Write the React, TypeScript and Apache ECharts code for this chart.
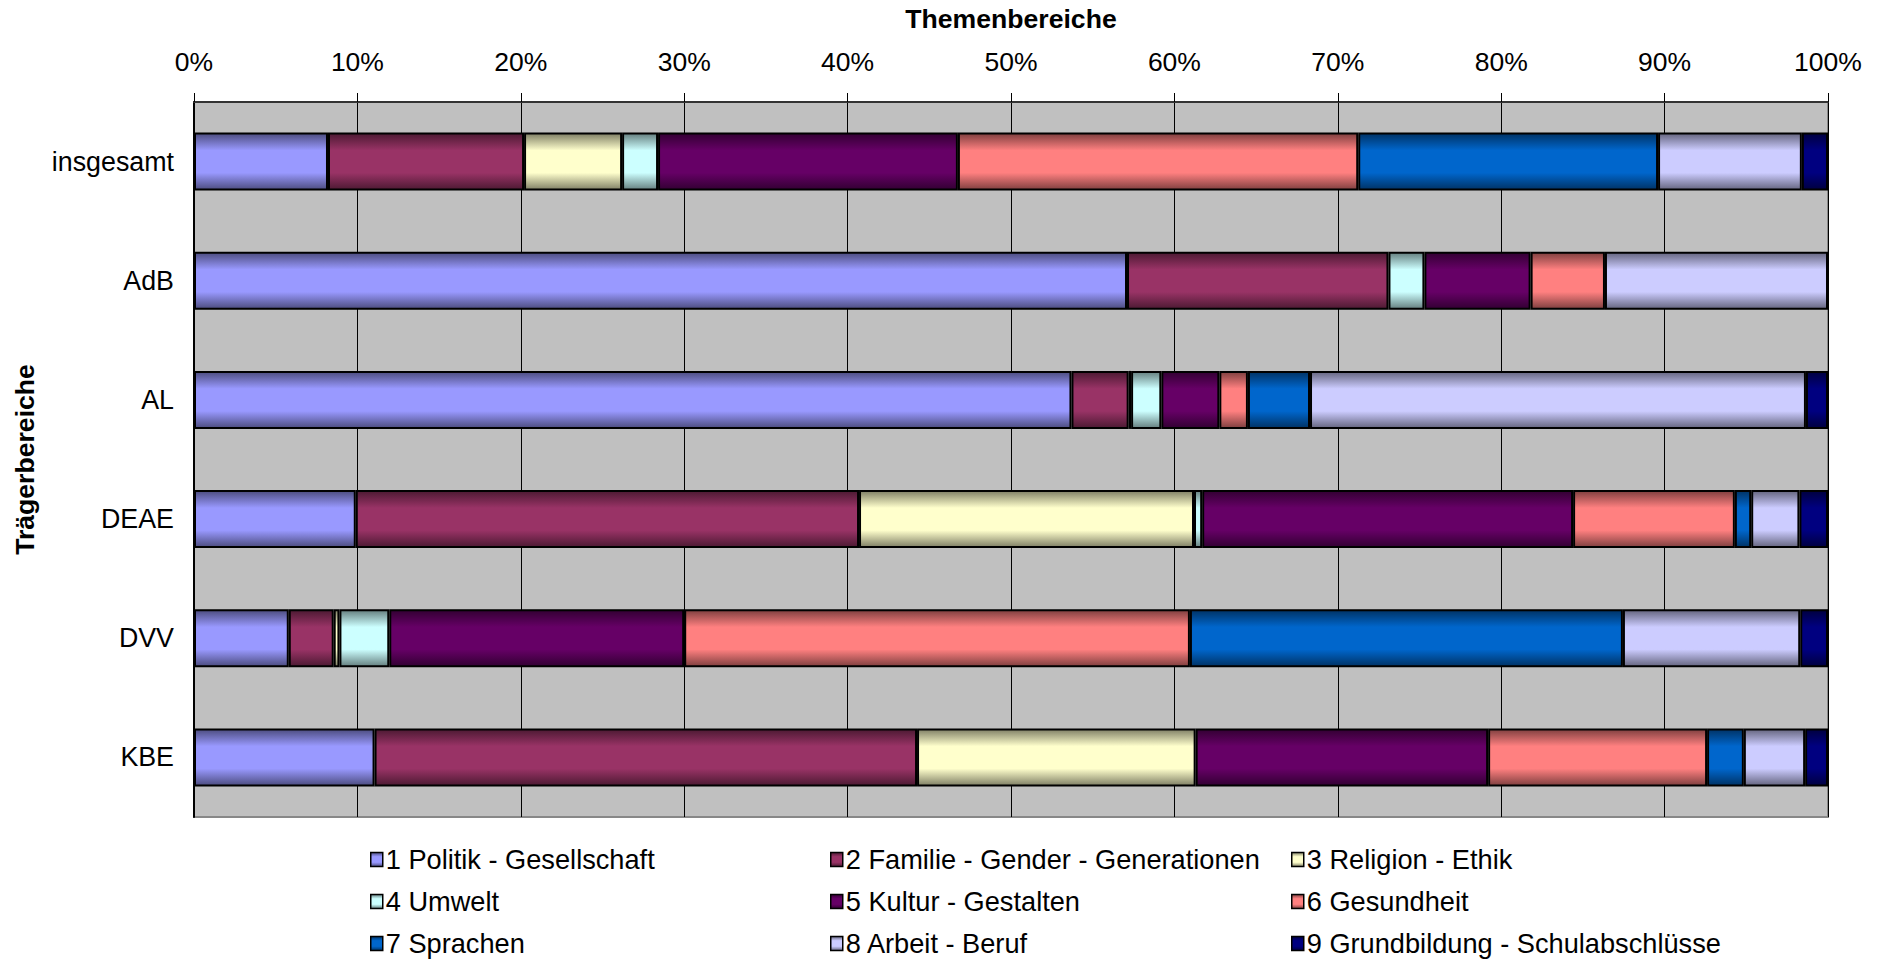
import React, { useEffect, useRef } from "react";
import * as echarts from "echarts";

const categories = ["insgesamt", "AdB", "AL", "DEAE", "DVV", "KBE"];
const seriesNames = [
  "1 Politik - Gesellschaft",
  "2 Familie - Gender - Generationen",
  "3 Religion - Ethik",
  "4 Umwelt",
  "5 Kultur - Gestalten",
  "6 Gesundheit",
  "7 Sprachen",
  "8 Arbeit - Beruf",
  "9 Grundbildung - Schulabschlüsse",
];
const seriesColors = ["#9999FF", "#993366", "#FFFFCC", "#CCFFFF", "#660066", "#FF8080", "#0066CC", "#CCCCFF", "#000080"];

const politik = [8.2, 57.1, 53.7, 9.9, 5.8, 11.05];
const familie = [12.0, 16.0, 3.5, 30.8, 2.75, 33.2];
const religion = [6.0, 0, 0.15, 20.5, 0.35, 17.05];
const umwelt = [2.2, 2.2, 1.85, 0.5, 3.05, 0];
const kultur = [18.35, 6.5, 3.55, 22.7, 18.05, 17.9];
const gesundheit = [24.5, 4.55, 1.75, 9.9, 30.95, 13.4];
const sprachen = [18.35, 0, 3.8, 1.0, 26.5, 2.25];
const arbeit = [8.8, 13.65, 30.35, 2.95, 10.85, 3.75];
const grundbildung = [1.6, 0, 1.35, 1.75, 1.7, 1.4];

const xTicks = [0, 10, 20, 30, 40, 50, 60, 70, 80, 90, 100];

const allValues = [politik, familie, religion, umwelt, kultur, gesundheit, sprachen, arbeit, grundbildung];

const FONT = "'Liberation Sans', Arial, sans-serif";

function darken(hex: string, f: number) {
  const n = parseInt(hex.slice(1), 16);
  const r = Math.round(((n >> 16) & 255) * f);
  const g = Math.round(((n >> 8) & 255) * f);
  const b = Math.round((n & 255) * f);
  return `rgb(${r},${g},${b})`;
}

function gradient(hex: string) {
  const d = darken(hex, 0.5);
  return new echarts.graphic.LinearGradient(0, 0, 0, 1, [
    { offset: 0, color: d },
    { offset: 0.3, color: hex },
    { offset: 0.7, color: hex },
    { offset: 1, color: d },
  ]);
}

export default function App() {
  const ref = useRef<HTMLDivElement>(null);
  useEffect(() => {
    if (!ref.current) return;
    const chart = echarts.init(ref.current, null, { renderer: "svg" });
    const series = seriesNames.map((name, i) => ({
      name,
      type: "bar",
      stack: "total",
      barWidth: 58,
      data: allValues[i].map((v) => (v === 0 ? null : v)),
      itemStyle: {
        color: gradient(seriesColors[i]),
        borderColor: "#000",
        borderWidth: 2,
      },
    }));
    const legendCol = (idx: number[], left: number) => ({
      orient: "vertical",
      left,
      top: 846,
      height: 200,
      padding: 0,
      itemWidth: 12,
      itemHeight: 14,
      itemGap: 15,
      icon: "rect",
      data: idx.map((i) => seriesNames[i]),
      itemStyle: { borderColor: "#000", borderWidth: 1.5 },
      textStyle: { fontFamily: FONT, fontSize: 27.2, color: "#000", padding: [0, 0, 0, -2], lineHeight: 27 },
      selectedMode: false,
    });
    chart.setOption({
      animation: false,
      backgroundColor: "#fff",
      textStyle: { fontFamily: FONT },
      grid: {
        left: 194,
        right: 53,
        top: 102,
        bottom: 143,
        outerBoundsMode: "none",
        containLabel: false,
        show: true,
        backgroundColor: "#C0C0C0",
        borderColor: "#888",
        borderWidth: 2,
      },
      legend: [legendCol([0, 3, 6], 370), legendCol([1, 4, 7], 830), legendCol([2, 5, 8], 1291)],
      xAxis: {
        type: "value",
        position: "top",
        min: xTicks[0],
        max: xTicks[xTicks.length - 1],
        interval: xTicks[1] - xTicks[0],
        name: "Themenbereiche",
        nameLocation: "middle",
        nameGap: 70,
        nameTextStyle: { fontFamily: FONT, fontSize: 26.6, fontWeight: "bold", color: "#000" },
        axisLine: { show: true, lineStyle: { color: "#333", width: 2 } },
        axisTick: { show: true, inside: false, length: 9, lineStyle: { color: "#000", width: 1 } },
        axisLabel: { formatter: "{value}%", fontFamily: FONT, fontSize: 26.5, color: "#000", margin: 27 },
        splitLine: { show: true, lineStyle: { color: "#000", width: 1 } },
      },
      yAxis: {
        type: "category",
        inverse: true,
        data: categories,
        name: "Trägerbereiche",
        nameLocation: "middle",
        nameRotate: 90,
        nameGap: 156,
        nameTextStyle: { fontFamily: FONT, fontSize: 26.6, fontWeight: "bold", color: "#000" },
        axisLine: { show: true, lineStyle: { color: "#000", width: 2 } },
        axisTick: { show: false },
        axisLabel: { fontFamily: FONT, fontSize: 26.8, color: "#000", margin: 20 },
        splitLine: { show: false },
      },
      series,
    });
    return () => chart.dispose();
  }, []);
  return (
    <div
      ref={ref}
      style={{ position: "fixed", left: 0, top: 0, width: 1881, height: 960, background: "#fff" }}
    />
  );
}
